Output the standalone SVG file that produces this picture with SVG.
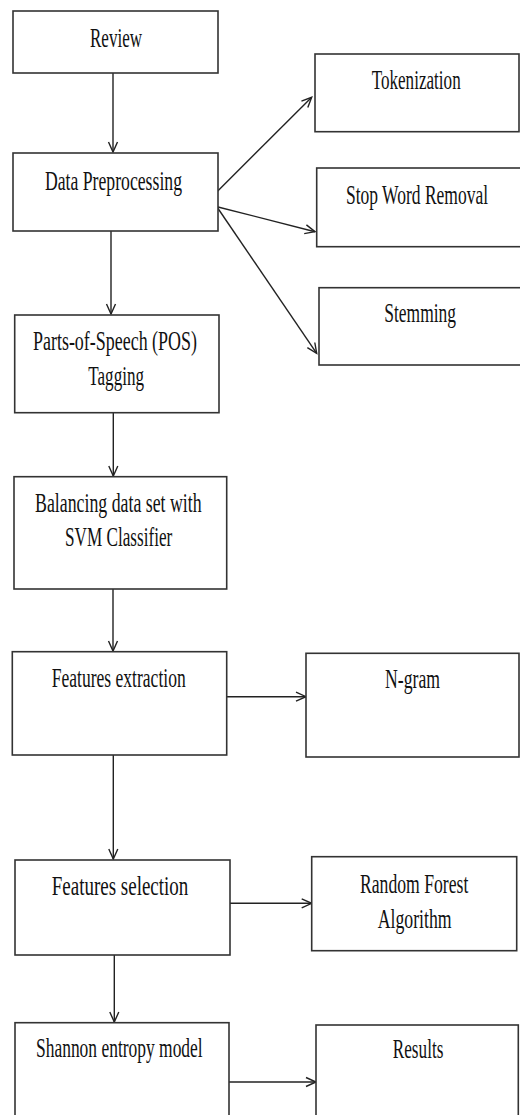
<svg xmlns="http://www.w3.org/2000/svg" width="520" height="1115" viewBox="0 0 520 1115">
<style>
.box{fill:#fff;stroke:#333;stroke-width:1.6}
.lbl{font-family:"Liberation Serif","Times New Roman",serif;font-size:28px;fill:#111}
.con{stroke:#222;stroke-width:1.4;fill:none;marker-end:url(#arr)}
</style>
<defs>
<marker id="arr" markerUnits="userSpaceOnUse" markerWidth="14" markerHeight="12" viewBox="0 0 14 12" refX="12" refY="6" orient="auto">
<path d="M2,1.5 L12,6 L2,10.5" fill="none" stroke="#222" stroke-width="1.4"/>
</marker>
</defs>
<rect width="520" height="1115" fill="#fff"/>
<g id="connectors">
<line class="con" x1="113" y1="73" x2="113" y2="152"/>
<line class="con" x1="111" y1="231" x2="111" y2="314"/>
<line class="con" x1="113.3" y1="413" x2="113.3" y2="476"/>
<line class="con" x1="113" y1="589" x2="113" y2="651"/>
<line class="con" x1="113.3" y1="755" x2="113.3" y2="859"/>
<line class="con" x1="114.3" y1="955" x2="114.3" y2="1022"/>
<line class="con" x1="217" y1="191.7" x2="311.7" y2="97.3"/>
<line class="con" x1="217" y1="206.7" x2="315" y2="231.7"/>
<line class="con" x1="217" y1="207" x2="316.7" y2="353.3"/>
<line class="con" x1="226.7" y1="696.7" x2="306" y2="696.7"/>
<line class="con" x1="230" y1="903.3" x2="311.7" y2="903.3"/>
<line class="con" x1="229" y1="1082" x2="316" y2="1082"/>
</g>
<g id="review"><rect class="box" x="13" y="11" width="205" height="62"/><text class="lbl" transform="translate(90,46.7) scale(0.6,1)" textLength="86.7" lengthAdjust="spacingAndGlyphs">Review</text></g>
<g id="preprocessing"><rect class="box" x="13" y="153" width="205" height="78"/><text class="lbl" transform="translate(45,190) scale(0.6,1)" textLength="228.3" lengthAdjust="spacingAndGlyphs">Data Preprocessing</text></g>
<g id="tokenization"><rect class="box" x="315" y="54" width="204" height="77.7"/><text class="lbl" transform="translate(371.7,89) scale(0.6,1)" textLength="148.3" lengthAdjust="spacingAndGlyphs">Tokenization</text></g>
<g id="stopword"><rect class="box" x="316.7" y="168" width="206" height="78.7"/><text class="lbl" transform="translate(346,204) scale(0.6,1)" textLength="236.7" lengthAdjust="spacingAndGlyphs">Stop Word Removal</text></g>
<g id="stemming"><rect class="box" x="319" y="287.7" width="204" height="77.3"/><text class="lbl" transform="translate(384.3,321.7) scale(0.6,1)" textLength="119.5" lengthAdjust="spacingAndGlyphs">Stemming</text></g>
<g id="pos"><rect class="box" x="14.7" y="315" width="204.3" height="97.7"/><text class="lbl" transform="translate(33,350) scale(0.6,1)" textLength="273.3" lengthAdjust="spacingAndGlyphs">Parts-of-Speech (POS)</text><text class="lbl" transform="translate(88.3,385) scale(0.6,1)" textLength="92.8" lengthAdjust="spacingAndGlyphs">Tagging</text></g>
<g id="balancing"><rect class="box" x="14" y="476.7" width="212.7" height="112.3"/><text class="lbl" transform="translate(35,511.7) scale(0.6,1)" textLength="277.8" lengthAdjust="spacingAndGlyphs">Balancing data set with</text><text class="lbl" transform="translate(65,546) scale(0.6,1)" textLength="178.8" lengthAdjust="spacingAndGlyphs">SVM Classifier</text></g>
<g id="extraction"><rect class="box" x="12.3" y="651.7" width="214.4" height="103.3"/><text class="lbl" transform="translate(51.7,686.7) scale(0.6,1)" textLength="223.3" lengthAdjust="spacingAndGlyphs">Features extraction</text></g>
<g id="ngram"><rect class="box" x="306" y="653.3" width="213" height="103.7"/><text class="lbl" transform="translate(385,688) scale(0.6,1)" textLength="91.7" lengthAdjust="spacingAndGlyphs">N-gram</text></g>
<g id="selection"><rect class="box" x="15" y="860" width="215" height="95"/><text class="lbl" transform="translate(51.7,895) scale(0.6,1)" textLength="227.8" lengthAdjust="spacingAndGlyphs">Features selection</text></g>
<g id="randomforest"><rect class="box" x="311.7" y="856.7" width="205" height="94"/><text class="lbl" transform="translate(360,893) scale(0.6,1)" textLength="180.5" lengthAdjust="spacingAndGlyphs">Random Forest</text><text class="lbl" transform="translate(377.7,928) scale(0.6,1)" textLength="123.3" lengthAdjust="spacingAndGlyphs">Algorithm</text></g>
<g id="shannon"><rect class="box" x="15" y="1022.7" width="214" height="100"/><text class="lbl" transform="translate(36,1056.7) scale(0.6,1)" textLength="277.8" lengthAdjust="spacingAndGlyphs">Shannon entropy model</text></g>
<g id="results"><rect class="box" x="316" y="1025" width="202.3" height="100"/><text class="lbl" transform="translate(392.7,1058.3) scale(0.6,1)" textLength="84.5" lengthAdjust="spacingAndGlyphs">Results</text></g>
</svg>
